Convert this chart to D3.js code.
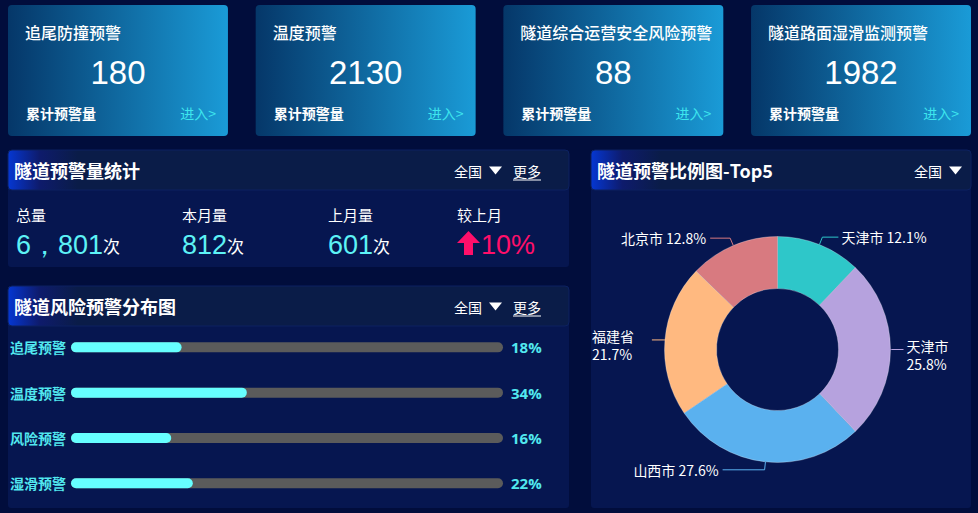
<!DOCTYPE html>
<html>
<head>
<meta charset="utf-8">
<script src="https://cdn.jsdelivr.net/npm/d3@7"></script>
<style>
  html, body { margin: 0; padding: 0; background: #010d3c; }
  svg { display: block; }
  text { font-family: "Microsoft YaHei", "Noto Sans CJK SC", "Noto Sans", sans-serif; }
  .num { font-family: "Liberation Sans", Arial, sans-serif; }
</style>
</head>
<body>
<div id="chart"></div>
<script>
// 顶部卡片
var cardTitles = ["追尾防撞预警", "温度预警", "隧道综合运营安全风险预警", "隧道路面湿滑监测预警"];
var cardValues = [180, 2130, 88, 1982];

// 隧道预警量统计
var statLabels = ["总量", "本月量", "上月量", "较上月"];
var statValues = ["6，801", "812", "601", "10%"];
var statUnits = ["次", "次", "次", ""];

// 隧道风险预警分布图
var riskNames = ["追尾预警", "温度预警", "风险预警", "湿滑预警"];
var riskPercents = [18, 34, 16, 22];
var riskBarValues = [25.6, 40.7, 23.2, 28.2]; // 进度条长度 (% of track), as drawn

// 隧道预警比例图-Top5
var pieNames = ["天津市", "天津市", "山西市", "福建省", "北京市"];
var pieValues = [12.1, 25.8, 27.6, 21.7, 12.8];
var pieColors = ["#2ec7c9", "#b6a2de", "#5ab1ef", "#ffb980", "#d87a80"];

var W = 978, H = 513;
var svg = d3.select("#chart").append("svg").attr("width", W).attr("height", H);
var defs = svg.append("defs");

svg.append("rect").attr("width", W).attr("height", H).attr("fill", "#010d3c");

// ---------- cards ----------
var cardGrad = defs.append("linearGradient").attr("id", "cardGrad")
  .attr("x1", "0%").attr("x2", "100%").attr("y1", "0%").attr("y2", "0%");
cardGrad.append("stop").attr("offset", "0%").attr("stop-color", "#053769");
cardGrad.append("stop").attr("offset", "100%").attr("stop-color", "#1a9bd7");

var cardX = d3.scaleBand().domain(d3.range(cardTitles.length)).range([8, 971]).paddingInner(0.112);

var cards = svg.selectAll(".card").data(cardTitles).enter().append("g")
  .attr("class", "card")
  .attr("transform", function (d, i) { return "translate(" + cardX(i) + ",5)"; });

cards.append("rect")
  .attr("width", cardX.bandwidth()).attr("height", 131)
  .attr("rx", 4).attr("fill", "url(#cardGrad)");

cards.append("text")
  .attr("x", 17).attr("y", 27)
  .attr("dominant-baseline", "central")
  .attr("fill", "#fff").style("font-size", "16px").style("font-weight", "500")
  .text(function (d) { return d; });

cards.append("text")
  .attr("class", "num")
  .attr("x", cardX.bandwidth() / 2).attr("y", 67)
  .attr("text-anchor", "middle").attr("dominant-baseline", "central")
  .attr("fill", "#fff").style("font-size", "33px")
  .text(function (d, i) { return cardValues[i]; });

cards.append("text")
  .attr("x", 18).attr("y", 108)
  .attr("dominant-baseline", "central")
  .attr("fill", "#fff").style("font-size", "14px").style("font-weight", "bold")
  .text("累计预警量");

cards.append("text")
  .attr("x", cardX.bandwidth() - 12).attr("y", 108)
  .attr("text-anchor", "end").attr("dominant-baseline", "central")
  .attr("fill", "#3ee6ee").style("font-size", "14px")
  .text("进入>");

// ---------- panels ----------
function panel(id, x, y, w, h, title, more) {
  var g = svg.append("g").attr("transform", "translate(" + x + "," + y + ")");
  var grad = defs.append("linearGradient").attr("id", id)
    .attr("gradientUnits", "userSpaceOnUse")
    .attr("x1", 0).attr("x2", 70).attr("y1", 0).attr("y2", 0);
  grad.append("stop").attr("offset", "0%").attr("stop-color", "#0537d2");
  grad.append("stop").attr("offset", "45%").attr("stop-color", "#0e1b6c");
  grad.append("stop").attr("offset", "100%").attr("stop-color", "#0a1c48");

  g.append("rect").attr("width", w).attr("height", h).attr("rx", 3).attr("fill", "#061650");
  g.append("rect").attr("width", w).attr("height", 40).attr("rx", 4)
    .attr("fill", "url(#" + id + ")").attr("stroke", "#0c2160").attr("stroke-width", 1);

  g.append("text").attr("x", 6).attr("y", 20)
    .attr("dominant-baseline", "central")
    .attr("fill", "#fff").style("font-size", "18px").style("font-weight", "bold")
    .text(title);

  var rx = more ? w - 115 : w - 57;
  g.append("text").attr("x", rx).attr("y", 21)
    .attr("dominant-baseline", "central")
    .attr("fill", "#fff").style("font-size", "14px")
    .text("全国");
  g.append("path")
    .attr("d", "M" + (rx + 35) + ",16.5 L" + (rx + 48) + ",16.5 L" + (rx + 41.5) + ",24.5 Z")
    .attr("fill", "#fff");
  if (more) {
    g.append("text").attr("x", rx + 59).attr("y", 21)
      .attr("dominant-baseline", "central")
      .attr("fill", "#fff").style("font-size", "14px")
      .text("更多");
    g.append("line").attr("x1", rx + 59).attr("x2", rx + 87)
      .attr("y1", 30).attr("y2", 30).attr("stroke", "#fff").attr("stroke-width", 1);
  }
  return g;
}

// 隧道预警量统计
var p1 = panel("hg1", 8, 150, 561, 117, "隧道预警量统计", true);
var statX = [8, 174, 320, 449];

var stat = p1.selectAll(".stat").data(statLabels).enter().append("g")
  .attr("class", "stat")
  .attr("transform", function (d, i) { return "translate(" + statX[i] + ",0)"; });

stat.append("text").attr("y", 64)
  .attr("dominant-baseline", "central")
  .attr("fill", "#fff").style("font-size", "15px")
  .text(function (d) { return d; });

stat.each(function (d, i) {
  var g = d3.select(this);
  var last = i === statLabels.length - 1;
  var x0 = 0;
  if (last) {
    g.append("path")
      .attr("d", "M11.5,81 L23,93 L16,93 L16,105 L7,105 L7,93 L0,93 Z")
      .attr("fill", "#ff0f6a");
    x0 = 24;
  }
  var t = g.append("text").attr("class", "num")
    .attr("x", x0).attr("y", 95)
    .attr("dominant-baseline", "central")
    .attr("fill", last ? "#ff0f6a" : "#5df2f6")
    .style("font-size", "27px");
  t.append("tspan").text(statValues[i]);
  if (statUnits[i]) {
    t.append("tspan").attr("fill", "#fff").style("font-size", "17px")
      .style("font-family", "'Noto Sans CJK SC', sans-serif")
      .text(statUnits[i]);
  }
});

// 隧道风险预警分布图
var p2 = panel("hg2", 8, 286, 561, 222, "隧道风险预警分布图", true);

var rowY = d3.scaleBand().domain(riskNames).range([38.7, 219.9]);
var barX = d3.scaleLinear().domain([0, 100]).range([63, 495]);
var barH = 10;

var row = p2.selectAll(".row").data(riskNames).enter().append("g")
  .attr("class", "row")
  .attr("transform", function (d) { return "translate(0," + (rowY(d) + rowY.bandwidth() / 2) + ")"; });

row.append("text").attr("x", 2).attr("y", 0)
  .attr("dominant-baseline", "central")
  .attr("fill", "#52e8ef").style("font-size", "14px").style("font-weight", "bold")
  .text(function (d) { return d; });

row.append("rect")
  .attr("x", barX(0)).attr("y", -barH / 2)
  .attr("width", barX(100) - barX(0)).attr("height", barH)
  .attr("rx", barH / 2).attr("fill", "#5b5b5b");

row.append("rect")
  .attr("x", barX(0)).attr("y", -barH / 2)
  .attr("width", function (d, i) { return barX(riskBarValues[i]) - barX(0); })
  .attr("height", barH)
  .attr("rx", barH / 2).attr("fill", "#66ffff");

row.append("text").attr("x", barX(100) + 8).attr("y", 0)
  .attr("dominant-baseline", "central")
  .attr("fill", "#52e8ef").style("font-size", "15px").style("font-weight", "bold")
  .style("font-family", "'Open Sans', 'Noto Sans', sans-serif")
  .text(function (d, i) { return riskPercents[i] + "%"; });

// 隧道预警比例图-Top5
var p3x = 591, p3y = 150;
var p3 = panel("hg3", p3x, p3y, 380, 358, "隧道预警比例图-Top5", false);

var cx = 777.5 - p3x, cy = 349.5 - p3y;
var rOuter = 113, rInner = 61;

var pie = d3.pie().sort(null).value(function (d) { return d; });
var arcs = pie(pieValues);
var arc = d3.arc().innerRadius(rInner).outerRadius(rOuter);

var donut = p3.append("g").attr("transform", "translate(" + cx + "," + cy + ")");

donut.selectAll("path.slice").data(arcs).enter().append("path")
  .attr("class", "slice")
  .attr("d", arc)
  .attr("fill", function (d, i) { return pieColors[i]; })
  .attr("stroke", "rgba(255,255,255,0.45)").attr("stroke-width", 0.6);

// label lines: elbow on a slightly larger radius, then a horizontal tail
var elbowR = rOuter + 8;
var tailLen = [16, 12, 42, 12, 20];
var wrapLabel = [false, true, false, true, false];

arcs.forEach(function (a, i) {
  var mid = (a.startAngle + a.endAngle) / 2;
  var sx = Math.sin(mid), sy = -Math.cos(mid);
  var p0 = [rOuter * sx, rOuter * sy];
  var p1 = [elbowR * sx, elbowR * sy];
  if (Math.abs(sy) < 0.2) p1 = [p0[0] + (sx > 0 ? 1 : -1) * 1, p0[1]];
  var right = sx >= 0;
  var p2 = [p1[0] + (right ? 1 : -1) * tailLen[i], p1[1]];

  donut.append("path")
    .attr("d", d3.line()([p0, p1, p2]))
    .attr("fill", "none")
    .attr("stroke", pieColors[i]).attr("stroke-width", 1);

  var pct = d3.format(".1f")(pieValues[i]) + "%";
  if (wrapLabel[i]) {
    var tx = right ? p2[0] + 3 : (p3x + 1) - (p3x + cx);
    var t = donut.append("text")
      .attr("x", tx).attr("y", p2[1] - 4)
      .attr("text-anchor", "start")
      .attr("fill", "#fff").style("font-size", "14px");
    t.append("tspan").attr("x", tx).attr("dy", 0).text(pieNames[i]);
    t.append("tspan").attr("x", tx).attr("dy", "1.3em").text(pct);
    t.attr("dominant-baseline", "central");
  } else {
    donut.append("text")
      .attr("x", p2[0] + (right ? 3 : -4)).attr("y", p2[1])
      .attr("text-anchor", right ? "start" : "end")
      .attr("dominant-baseline", "central")
      .attr("fill", "#fff").style("font-size", "14px")
      .text(pieNames[i] + " " + pct);
  }
});
</script>
</body>
</html>
